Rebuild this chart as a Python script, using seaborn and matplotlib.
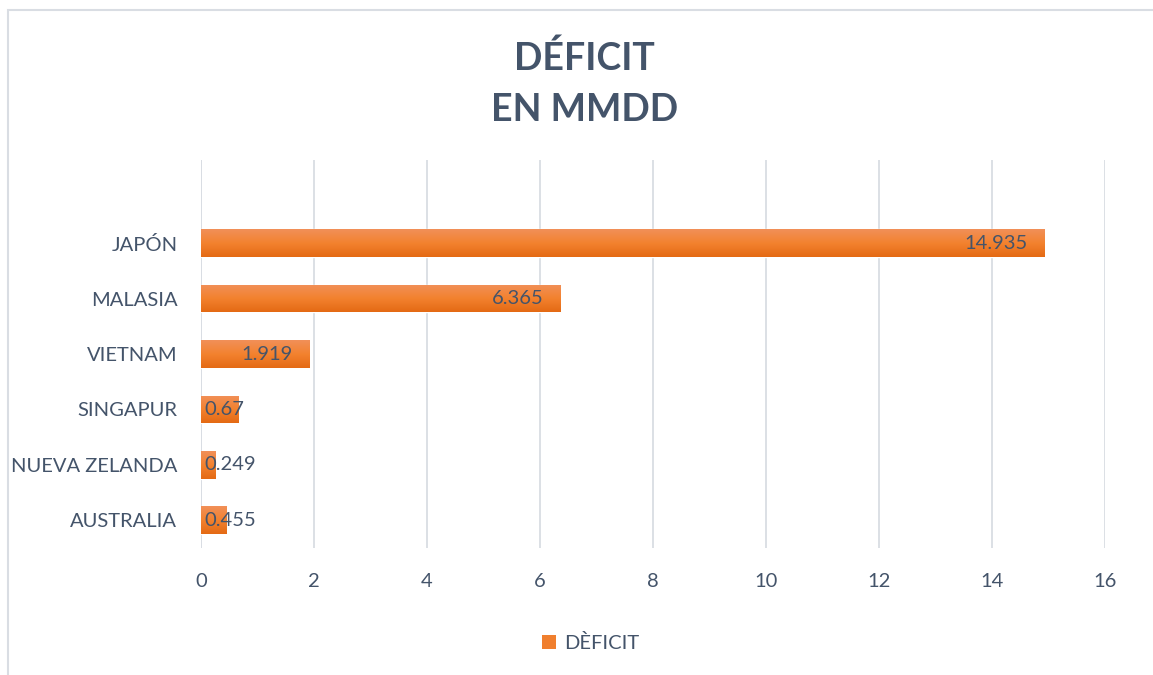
import numpy as np
import pandas as pd
import matplotlib
matplotlib.use("Agg")
import matplotlib.pyplot as plt
import seaborn as sns
from matplotlib.patches import Rectangle
from matplotlib.colors import LinearSegmentedColormap

countries = ["JAPÓN", "MALASIA", "VIETNAM", "SINGAPUR", "NUEVA ZELANDA", "AUSTRALIA"]
deficit = [14.935, 6.365, 1.919, 0.67, 0.249, 0.455]
labels = ["14.935", "6.365", "1.919", "0.67", "0.249", "0.455"]
x_ticks = [0, 2, 4, 6, 8, 10, 12, 14, 16]

df = pd.DataFrame({"pais": countries, "deficit": deficit})

text_color = "#44546A"
grid_color = "#D9DDE3"

sns.set_theme(style="white")
plt.rcParams["font.family"] = ["Lato", "DejaVu Sans"]

fig = plt.figure(figsize=(11.53, 6.75), dpi=100)
ax = fig.add_axes([201 / 1153, 1 - 548 / 675, (1105 - 201) / 1153, (548 - 160) / 675])

sns.barplot(data=df, x="deficit", y="pais", order=countries, color="#F07F2E",
            width=0.5, ax=ax, zorder=3)

# vertical gradient on each bar
grad = LinearSegmentedColormap.from_list("g", ["#F19058", "#F3822F", "#E46A14"])
for p in ax.patches:
    x0, y0 = p.get_x(), p.get_y()
    w, h = p.get_width(), p.get_height()
    im = ax.imshow(np.linspace(0, 1, 64).reshape(-1, 1), cmap=grad, aspect="auto",
                   extent=[x0, x0 + w, y0 + h, y0], zorder=4)
    im.set_clip_path(p)

ax.set_xlim(0, 16)
ax.set_ylim(5.5, -1.5)
ax.set_xticks(x_ticks)
ax.set_xticklabels([str(t) for t in x_ticks])
ax.set_xlabel("")
ax.set_ylabel("")
ax.grid(axis="x", color=grid_color, linewidth=1.3, zorder=0)
ax.grid(axis="y", visible=False)
for s in ax.spines.values():
    s.set_visible(False)
ax.axvline(0, color=grid_color, linewidth=1.3, zorder=1)
ax.tick_params(axis="x", length=0, pad=18, labelsize=14.5, labelcolor=text_color)
ax.tick_params(axis="y", length=0, pad=17, labelsize=14.5, labelcolor=text_color)

# value labels: inside end, or from bar start if too short
fig.canvas.draw()
renderer = fig.canvas.get_renderer()
px_per_unit = ax.transData.transform((1, 0))[0] - ax.transData.transform((0, 0))[0]
for i, (v, lab) in enumerate(zip(deficit, labels)):
    t = ax.text(0, i, lab, fontsize=14.5, color=text_color, va="center", zorder=5)
    tw = t.get_window_extent(renderer).width
    if v * px_per_unit - 17 > tw:
        t.set_position((v - 17 / px_per_unit, i))
        t.set_ha("right")
    else:
        t.set_position((3 / px_per_unit, i))
        t.set_ha("left")

# chart title
fig.text(0.507, 1 - 58 / 675, "DÉFICIT", ha="center", va="center",
         fontsize=27, fontweight="bold", color=text_color)
fig.text(0.507, 1 - 110 / 675, "EN MMDD", ha="center", va="center",
         fontsize=27, fontweight="bold", color=text_color)

# legend
handle = Rectangle((0, 0), 1, 1, facecolor="#F07F2E", edgecolor="none")
fig.legend([handle], ["DÈFICIT"], loc="center", bbox_to_anchor=(0.512, 1 - 643 / 675),
           frameon=False, fontsize=14.5, labelcolor=text_color, handlelength=0.7,
           handleheight=0.7, handletextpad=0.4)

# chart area border
fig.patches.append(Rectangle((8 / 1153, -0.05), 1.1, 1 - 10 / 675 + 0.05,
                             transform=fig.transFigure, fill=False,
                             edgecolor="#D9DDE3", linewidth=1.5))

fig.savefig("out.png", dpi=100, facecolor="white")
